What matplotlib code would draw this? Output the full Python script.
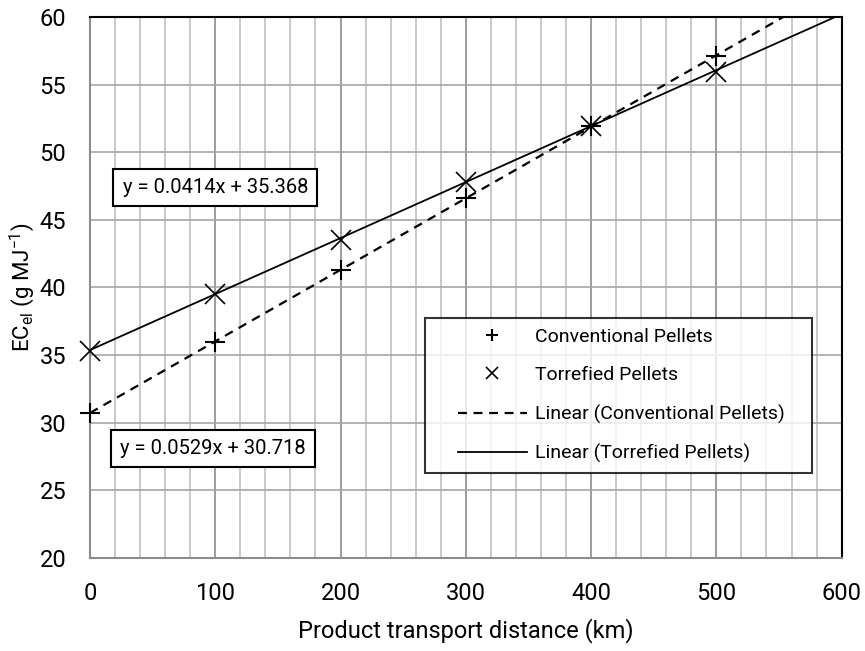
import numpy as np
import matplotlib.pyplot as plt
from matplotlib.ticker import MultipleLocator
from matplotlib.legend_handler import HandlerLine2D

plt.rcParams['font.family'] = ['Roboto', 'DejaVu Sans']

distance = [0, 100, 200, 300, 400, 500]
conventional = [30.7, 36.0, 41.3, 46.6, 51.9, 57.1]
torrefied = [35.3, 39.5, 43.5, 47.8, 51.9, 55.9]
# trendline coefficients (slope, intercept)
fit_conv = (0.0529, 30.718)
fit_torr = (0.0414, 35.368)

fig = plt.figure(figsize=(8.65, 6.51), dpi=100)
ax = fig.add_axes([0.104, 0.143, 0.869, 0.831])

xs = np.array([0, 600])
ax.plot(xs, fit_conv[0] * xs + fit_conv[1], color='black', ls=(0, (4, 3)), lw=1.6,
        label='Linear (Conventional Pellets)', zorder=3)
ax.plot(xs, fit_torr[0] * xs + fit_torr[1], color='black', lw=1.3,
        label='Linear (Torrefied Pellets)', zorder=3)
ax.plot(distance, conventional, ls='none', marker='+', ms=14, mew=1.5, color='black',
        label='Conventional Pellets', zorder=4, clip_on=False)
ax.plot(distance, torrefied, ls='none', marker='x', ms=14, mew=1.2, color='black',
        label='Torrefied Pellets', zorder=4, clip_on=False)

ax.set_xlim(0, 600)
ax.set_ylim(20, 60)
ax.xaxis.set_major_locator(MultipleLocator(100))
ax.xaxis.set_minor_locator(MultipleLocator(20))
ax.yaxis.set_major_locator(MultipleLocator(5))
ax.grid(True, which='major', axis='x', color='#8c8c8c', lw=1.2)
ax.grid(True, which='minor', axis='x', color='#c0c0c0', lw=1.2)
ax.grid(True, which='major', axis='y', color='#a6a6a6', lw=1.2)
ax.set_axisbelow(True)
ax.tick_params(which='both', length=0, labelsize=17)
ax.tick_params(axis='x', pad=17.5)
ax.tick_params(axis='y', pad=17)
for s in ['left', 'bottom']:
    ax.spines[s].set_color('#8c8c8c')
    ax.spines[s].set_linewidth(1.5)
for s in ['top', 'right']:
    ax.spines[s].set_color('black')
    ax.spines[s].set_linewidth(1.5)

ax.set_xlabel('Product transport distance (km)', fontsize=17, labelpad=9.5)
ax.set_ylabel('EC$_{\\mathregular{el}}$ (g MJ$^{\\mathregular{-1}}$)', fontsize=16)
ax.yaxis.set_label_coords(-0.07, 0.5)

box = dict(boxstyle='square,pad=0.45', fc='white', ec='black', lw=1.5)
ax.text(26, 47.4, 'y = 0.0414x + 35.368', fontsize=14.5, va='center', ha='left', bbox=box, zorder=5)
ax.text(24, 28.1, 'y = 0.0529x + 30.718', fontsize=14.5, va='center', ha='left', bbox=box, zorder=5)

handles, labels = ax.get_legend_handles_labels()
order = [2, 3, 0, 1]
hmap = {h: HandlerLine2D(xpad=1.2) for h in handles}
leg = ax.legend([handles[i] for i in order], [labels[i] for i in order],
                loc='lower left', bbox_to_anchor=(0.4455, 0.157, 0.5146, 0.3), mode='expand',
                fontsize=14, frameon=True, fancybox=False, edgecolor='black',
                handlelength=4.75, labelspacing=1.05, borderpad=0.5, markerscale=0.65,
                handletextpad=0.4, borderaxespad=0, handler_map=hmap)
leg.get_frame().set_linewidth(1.5)
leg.set_zorder(6)

fig.savefig('out.png', dpi=100)
